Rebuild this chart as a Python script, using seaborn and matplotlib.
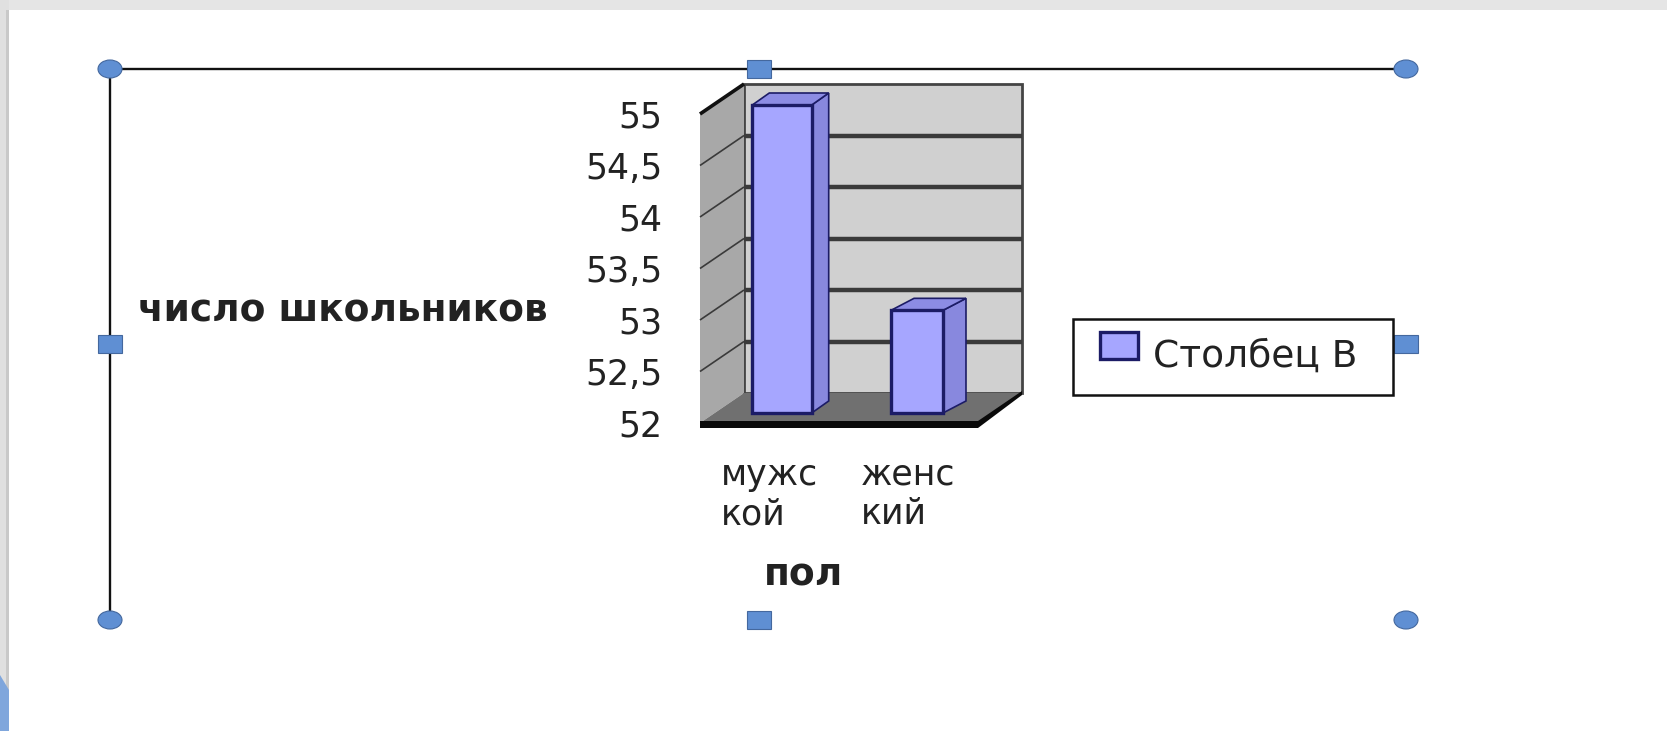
import matplotlib
matplotlib.use("Agg")
import matplotlib.pyplot as plt
import seaborn as sns
from matplotlib.patches import Polygon, Rectangle, Ellipse
from matplotlib.transforms import IdentityTransform

categories = ["мужс\nкой", "женс\nкий"]
values = [55, 53]
y_ticks = [52, 52.5, 53, 53.5, 54, 54.5, 55]
y_tick_labels = ["52", "52,5", "53", "53,5", "54", "54,5", "55"]
x_title = "пол"
y_title = "число школьников"
series_name = "Столбец B"

W, H = 1667, 731
sns.set_theme(style="white")
plt.rcParams["font.family"] = ["DejaVu Sans"]
TXT = "#222222"
NAVY = "#1c1c66"

fig = plt.figure(figsize=(W / 100, H / 100), dpi=100, facecolor="white")


def axes_px(x0, x1, ytop, ybot, **kw):
    return fig.add_axes([x0 / W, 1 - ybot / H, (x1 - x0) / W, (ybot - ytop) / H], **kw)


# ---- page chrome
bg = axes_px(0, W, 0, H, zorder=-2)
bg.set_xlim(0, W); bg.set_ylim(H, 0); bg.axis("off")
bg.add_patch(Rectangle((0, 0), W, 10, fc="#E5E5E5", ec="none"))
bg.add_patch(Rectangle((0, 0), 9, H, fc="#E0E0E0", ec="none"))
bg.add_patch(Rectangle((6, 10), 3, H, fc="#C9C9C9", ec="none"))
bg.add_patch(Polygon([(0, 675), (9, 690), (9, H), (0, H)], fc="#7FA6DC", ec="none"))

# ---- selection frame
FR = "#111111"
bg.plot([110, 1406], [69, 69], color=FR, lw=1.7)
bg.plot([110, 110], [69, 620], color=FR, lw=1.7)
HC = "#5F8FD3"; HE = "#44689E"
for cx, cy in [(110, 69), (1406, 69), (110, 620), (1406, 620)]:
    bg.add_patch(Ellipse((cx, cy), 24, 18, fc=HC, ec=HE, lw=0.8, zorder=5))
for cx, cy in [(759, 69), (110, 344), (1406, 344), (759, 620)]:
    bg.add_patch(Rectangle((cx - 12, cy - 9), 24, 18, fc=HC, ec=HE, lw=0.8, zorder=5))
# legend box
bg.add_patch(Rectangle((1073, 319), 320, 76, fc="white", ec="#111111", lw=1.8, zorder=6))

# ---- front plane: value axis, category axis, walls
ax = axes_px(700, 978, 114, 423, zorder=0)
ax.patch.set_alpha(0)
ax.set_xlim(-0.5, 1.5); ax.set_ylim(52, 55)
ax.set_xticks([0, 1], categories)
ax.set_yticks(y_ticks, y_tick_labels)
ax.tick_params(axis="y", length=0, pad=27, labelsize=25, labelcolor=TXT)
ax.tick_params(axis="x", length=0, pad=25, labelsize=25, labelcolor=TXT)
for t in ax.get_xticklabels():
    t.set_multialignment("left")
    t.set_linespacing(1.2)
for s in ax.spines.values():
    s.set_visible(False)

fig.canvas.draw()
DX, DY = 44, 30  # depth of the box, pixels


def d(x, y, depth=0.0):
    px, py = ax.transData.transform((x, y))
    return (px + DX * depth, py + DY * depth)


def poly(corners, **kw):
    ax.add_patch(Polygon(corners, closed=True, transform=IdentityTransform(), clip_on=False, **kw))


def line(a, b, **kw):
    ax.plot([a[0], b[0]], [a[1], b[1]], transform=IdentityTransform(), clip_on=False,
            solid_capstyle="butt", **kw)


xl, xr = -0.5, 1.5
ylo, yhi = 52, 55
poly([d(xl, ylo, 1), d(xr, ylo, 1), d(xr, yhi, 1), d(xl, yhi, 1)], fc="#D0D0D0", ec="#444444", lw=2.0, zorder=1)
poly([d(xl, ylo), d(xl, ylo, 1), d(xl, yhi, 1), d(xl, yhi)], fc="#A8A8A8", ec="none", zorder=1)
for v in y_ticks[1:-1]:
    line(d(xl, v, 1), d(xr, v, 1), color="#3a3a3a", lw=3.2, zorder=2)
    line(d(xl, v), d(xl, v, 1), color="#3a3a3a", lw=1.2, zorder=2)
line(d(xl, yhi), d(xl, yhi, 1), color="#111111", lw=2.6, zorder=3)
poly([d(xl, ylo), d(xr, ylo), d(xr, ylo, 1), d(xl, ylo, 1)], fc="#707070", ec="none", zorder=3)
fx0, fy0 = d(xl, ylo); fx1, _ = d(xr, ylo)
poly([(fx0, fy0 + 2), (fx1, fy0 + 2), (fx1 + DX, fy0 + DY + 2), (fx1 + DX, fy0 + DY - 2),
      (fx1, fy0 - 5), (fx0, fy0 - 5)], fc="#0a0a0a", ec="none", zorder=3)

# ---- bar plane
ax_b = axes_px(714.5, 984.5, 105, 413, zorder=1)
sns.barplot(x=categories, y=values, ax=ax_b, color="#A6A6FF", saturation=1, width=0.43,
            edgecolor=NAVY, linewidth=2.4, label=series_name)
ax_b.patch.set_alpha(0)
ax_b.set_xlim(-0.5, 1.5); ax_b.set_ylim(52, 55)
ax_b.set_xticks([]); ax_b.set_yticks([])
ax_b.set_xlabel(""); ax_b.set_ylabel("")
for s in ax_b.spines.values():
    s.set_visible(False)

bar_widths = [0.44, 0.385]
bar_depths = [17, 23]
fig.canvas.draw()
for bar, w, dep in zip(ax_b.patches, bar_widths, bar_depths):
    top = bar.get_height()
    c = bar.get_x() + bar.get_width() / 2
    bar.set_x(c - w / 2); bar.set_width(w)
    bar.set_y(52); bar.set_height(top - 52)
    bar.set_clip_on(False); bar.set_zorder(4)
    (x0, y0) = ax_b.transData.transform((c - w / 2, 52))
    (x1, y1) = ax_b.transData.transform((c + w / 2, top))
    rise = 12
    ax_b.add_patch(Polygon([(x1, y0), (x1 + dep, y0 + rise), (x1 + dep, y1 + rise), (x1, y1)],
                           transform=IdentityTransform(), clip_on=False, fc="#8888DE", ec=NAVY, lw=1.2, zorder=3))
    ax_b.add_patch(Polygon([(x0, y1), (x0 + dep, y1 + rise), (x1 + dep, y1 + rise), (x1, y1)],
                           transform=IdentityTransform(), clip_on=False, fc="#8C8CE4", ec=NAVY, lw=1.2, zorder=3))

# ---- legend (frame is the box drawn on the page layer)
leg = ax_b.legend(loc="center left", bbox_to_anchor=(1100 / W, 1 - 357 / H), bbox_transform=fig.transFigure,
                  borderaxespad=0, borderpad=0, frameon=False, prop={"size": 27}, labelcolor=TXT,
                  handlelength=1.0, handleheight=0.72, handletextpad=0.4)
leg.set_zorder(10)
swatch = leg.legend_handles[0]
swatch.set_y(swatch.get_y() + 6)

# ---- axis titles
fig.text(803 / W, 1 - 575 / H, x_title, ha="center", va="center", fontsize=27,
         fontweight="bold", color=TXT)
fig.text(138 / W, 1 - 311 / H, y_title, ha="left", va="center", fontsize=27,
         fontweight="bold", color=TXT)

fig.savefig("out.png", dpi=100, facecolor="white")
